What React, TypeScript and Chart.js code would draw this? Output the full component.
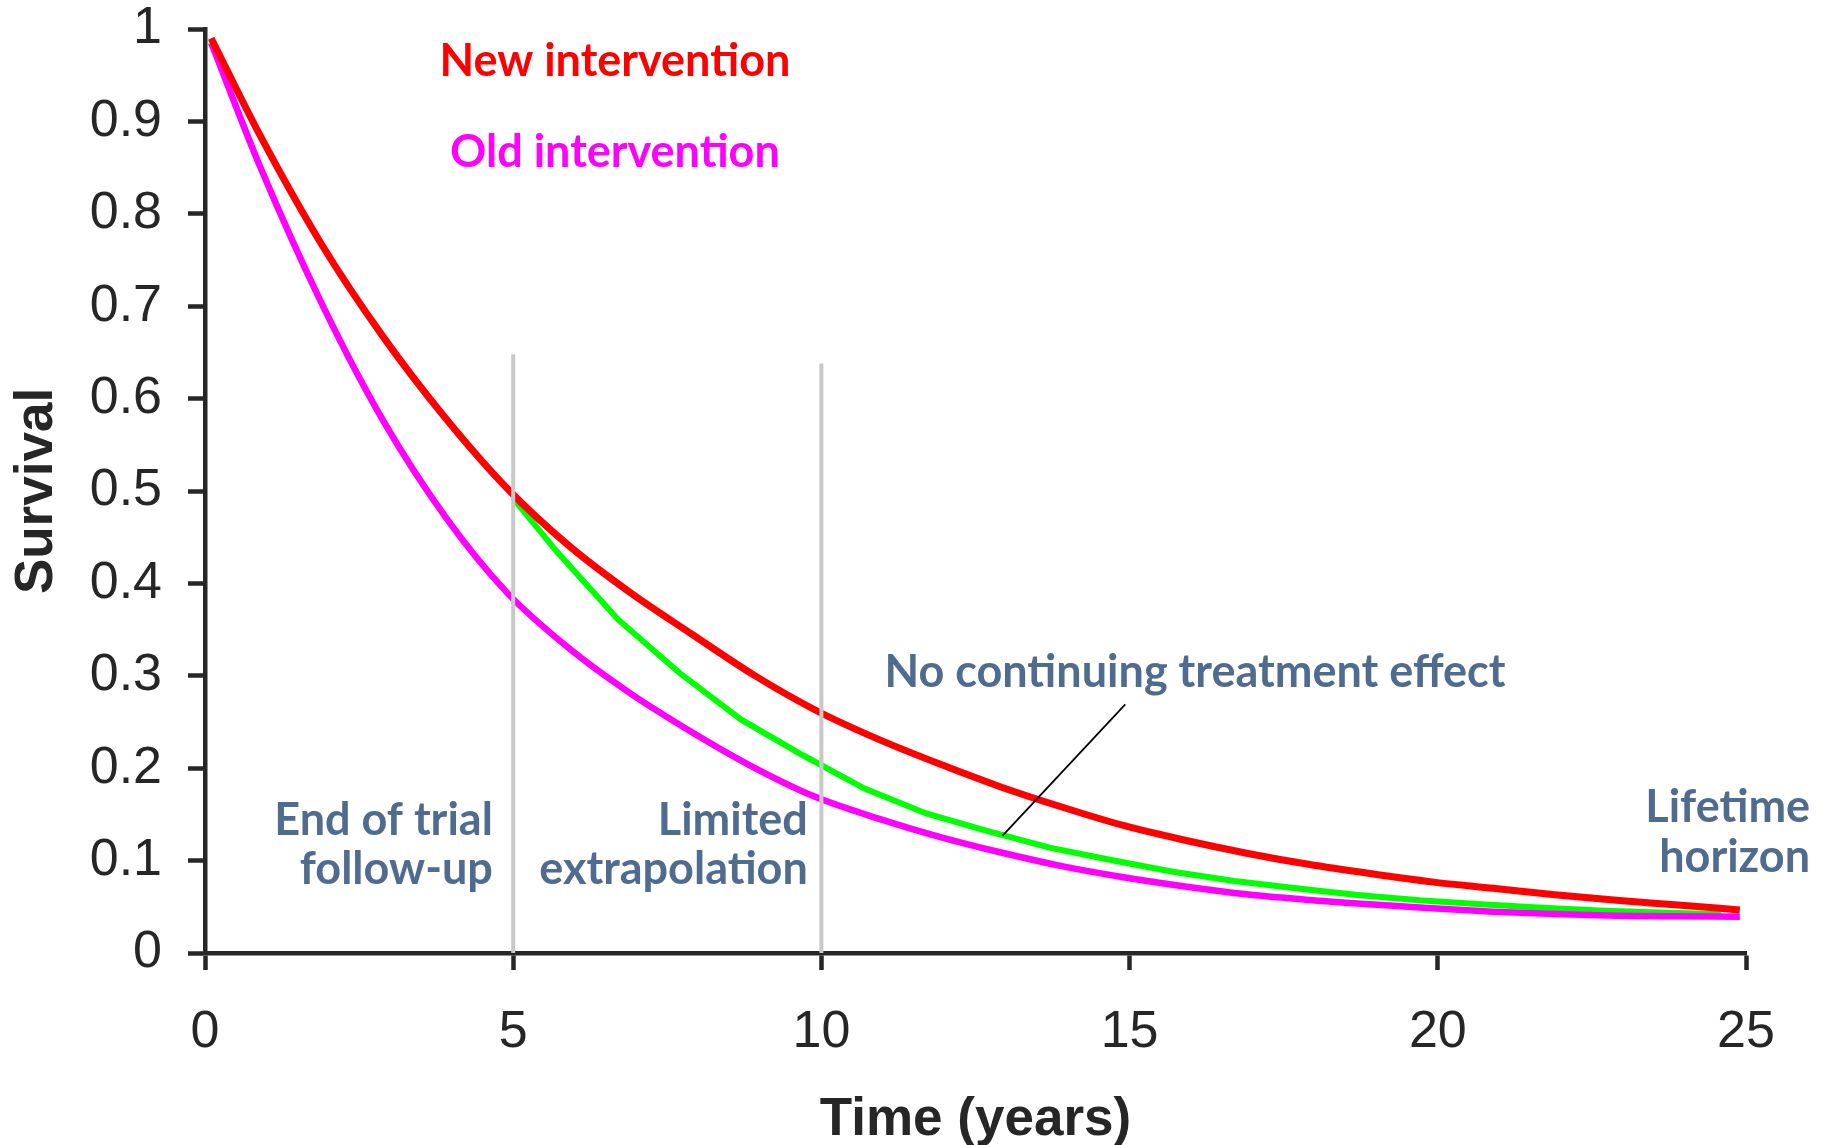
import React, { useEffect, useRef } from 'react';
import { Chart, registerables } from 'chart.js';

Chart.register(...registerables);

// ---- Data ----
const curveTimes = [0.1, 0.9, 1.9, 2.9, 3.9, 4.9, 5.9, 6.9, 7.9, 8.9, 9.9, 10.9, 11.9, 12.9, 13.9, 14.9, 15.9, 16.9, 17.9, 18.9, 19.9, 20.9, 21.9, 22.9, 23.9, 24.9];
const newSurvival = [0.99, 0.884, 0.766, 0.666, 0.579, 0.503, 0.441, 0.39, 0.345, 0.301, 0.263, 0.232, 0.205, 0.18, 0.158, 0.138, 0.122, 0.108, 0.096, 0.086, 0.077, 0.07, 0.063, 0.057, 0.052, 0.0465];
const oldSurvival = [0.985, 0.85, 0.702, 0.575, 0.472, 0.39, 0.33, 0.281, 0.239, 0.201, 0.169, 0.146, 0.126, 0.109, 0.094, 0.082, 0.072, 0.0635, 0.0574, 0.0527, 0.0484, 0.0447, 0.0422, 0.0404, 0.0397, 0.0393];
const noEffectTimes = [5.0, 5.7, 6.7, 7.7, 8.7, 9.7, 10.7, 11.7, 12.7, 13.7, 14.7, 15.7, 16.7, 17.7, 18.7, 19.7, 20.7, 21.7, 22.7, 23.7, 24.6];
const noEffectSurvival = [0.492, 0.435, 0.361, 0.303, 0.2525, 0.214, 0.178, 0.151, 0.132, 0.114, 0.1006, 0.088, 0.078, 0.07, 0.0628, 0.057, 0.0527, 0.049, 0.0458, 0.0436, 0.042];
const markerTimes = [5, 10];
const markerTops = [0.648, 0.638];
const pointerTimes = [12.94, 14.93];
const pointerValues = [0.127, 0.269];
const xTickLabels = ['0', '5', '10', '15', '20', '25'];
const yTickLabels = ['0', '0.1', '0.2', '0.3', '0.4', '0.5', '0.6', '0.7', '0.8', '0.9', '1'];

// ---- Annotation texts (data coordinates of each line's baseline) ----
const annotations = [
  { lines: ['New intervention'], x: 6.65, ys: [0.9491], color: '#ff0000', align: 'center' },
  { lines: ['Old intervention'], x: 6.65, ys: [0.8506], color: '#ff00ff', align: 'center' },
  { lines: ['No continuing treatment effect'], x: 16.06, ys: [0.288], color: '#4f6c90', align: 'center' },
  { lines: ['End of trial', 'follow-up'], x: 4.67, ys: [0.1277, 0.0747], color: '#4f6c90', align: 'right' },
  { lines: ['Limited', 'extrapolation'], x: 9.78, ys: [0.1277, 0.0747], color: '#4f6c90', align: 'right' },
  { lines: ['Lifetime', 'horizon'], x: 26.04, ys: [0.1418, 0.0877], color: '#4f6c90', align: 'right' },
];

const AXIS = '#262626';
const TICK_FONT = { family: '"Liberation Sans", Arial, sans-serif', size: 52 };
const TITLE_FONT = { family: '"Liberation Sans", Arial, sans-serif', size: 53, weight: 'bold' as const };
const NOTE_FONT = 'bold 45px Lato, "Open Sans", sans-serif';

const annotationPlugin = {
  id: 'textNotes',
  afterDatasetsDraw(chart: any) {
    const { ctx, scales } = chart;
    ctx.save();
    ctx.font = NOTE_FONT;
    ctx.textBaseline = 'alphabetic';
    annotations.forEach((a) => {
      ctx.fillStyle = a.color;
      ctx.textAlign = a.align;
      a.lines.forEach((line, i) => {
        ctx.fillText(line, scales.x.getPixelForValue(a.x), scales.y.getPixelForValue(a.ys[i]));
      });
    });
    ctx.restore();
  },
};

export default function App() {
  const ref = useRef<HTMLCanvasElement | null>(null);

  useEffect(() => {
    document.body.style.margin = '0';
    if (!ref.current) return;
    const toPts = (xs: number[], ys: number[]) => xs.map((x, i) => ({ x, y: ys[i] }));
    const markerSets = markerTimes.map((t, i) => ({
      label: 'marker' + i,
      data: [{ x: t, y: 0 }, { x: t, y: markerTops[i] }],
      borderColor: '#c8c8c8',
      borderWidth: 4,
      pointRadius: 0,
      order: 0,
    }));
    const chart = new Chart(ref.current, {
      type: 'line',
      data: {
        datasets: [
          ...markerSets,
          {
            label: 'pointer',
            data: toPts(pointerTimes, pointerValues),
            borderColor: '#000000',
            borderWidth: 1.8,
            pointRadius: 0,
            order: 0,
          },
          {
            label: 'New intervention',
            data: toPts(curveTimes, newSurvival),
            borderColor: '#ff0000',
            borderWidth: 7,
            pointRadius: 0,
            cubicInterpolationMode: 'monotone',
            order: 1,
          },
          {
            label: 'Old intervention',
            data: toPts(curveTimes, oldSurvival),
            borderColor: '#ff00ff',
            borderWidth: 6.5,
            pointRadius: 0,
            cubicInterpolationMode: 'monotone',
            order: 2,
          },
          {
            label: 'No continuing treatment effect',
            data: toPts(noEffectTimes, noEffectSurvival),
            borderColor: '#00ff00',
            borderWidth: 6,
            pointRadius: 0,
            order: 3,
          },
        ],
      },
      options: {
        animation: false,
        responsive: true,
        maintainAspectRatio: false,
        devicePixelRatio: 1,
        layout: { padding: { top: 29, right: 82, left: 0, bottom: 0 } },
        plugins: { legend: { display: false }, tooltip: { enabled: false } },
        elements: { line: { tension: 0, borderCapStyle: 'butt' } },
        scales: {
          x: {
            type: 'linear',
            min: 0,
            max: 25,
            afterFit: (s: any) => { s.height = 192; s.paddingLeft = 0; s.paddingRight = 0; },
            border: { display: true, color: AXIS, width: 4.5 },
            grid: { drawOnChartArea: false, drawTicks: true, tickLength: 17, tickWidth: 4.5, tickColor: AXIS },
            ticks: {
              stepSize: 5,
              padding: 31,
              color: AXIS,
              font: TICK_FONT,
              maxRotation: 0,
              callback: (v: any) => xTickLabels[Math.round(Number(v) / 5)] ?? '',
            },
            title: { display: true, text: 'Time (years)', color: AXIS, font: TITLE_FONT, padding: { top: 0, bottom: -7 } },
          },
          y: {
            type: 'linear',
            min: 0,
            max: 1,
            afterFit: (s: any) => { s.width = 205; s.paddingTop = 0; s.paddingBottom = 0; },
            border: { display: true, color: AXIS, width: 4.5 },
            grid: { drawOnChartArea: false, drawTicks: true, tickLength: 17, tickWidth: 4.5, tickColor: AXIS },
            ticks: {
              stepSize: 0.1,
              padding: 26,
              color: AXIS,
              font: TICK_FONT,
              callback: (v: any) => yTickLabels[Math.round(Number(v) * 10)] ?? '',
            },
            title: { display: true, text: 'Survival', color: AXIS, font: TITLE_FONT, padding: { top: 6, bottom: 0 } },
          },
        },
      },
      plugins: [annotationPlugin],
    } as any);
    return () => chart.destroy();
  }, []);

  return (
    <div style={{ width: 1828, height: 1145, position: 'relative', background: '#ffffff' }}>
      <canvas ref={ref} />
    </div>
  );
}
